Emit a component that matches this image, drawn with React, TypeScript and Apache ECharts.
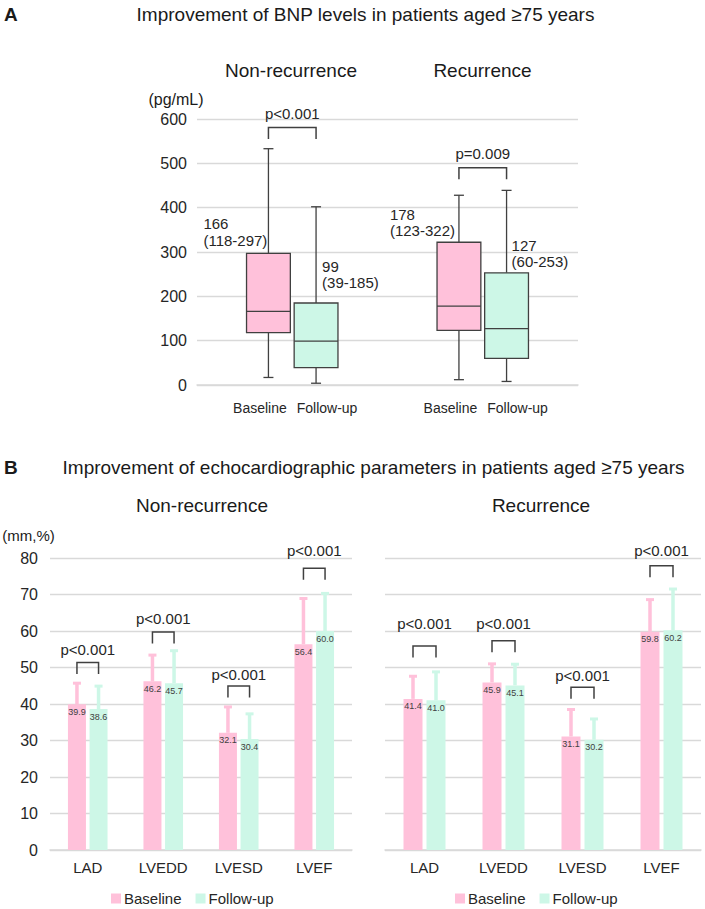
import React, { useEffect, useRef } from 'react';
import * as echarts from 'echarts';

const FONT = "'Liberation Sans', Arial, Helvetica, sans-serif";
const PINK = '#FFC1DA';
const MINT = '#CDF7E7';
const INK = '#262626';
const LINE_INK = '#404040';
const GRID_GRAY = '#D9D9D9';

// ---- Panel A: BNP (pg/mL); each row = [min, Q1, median, Q3, max]
const groups = ['Non-recurrence', 'Recurrence'];
const timepoints = ['Baseline', 'Follow-up'];
const bnpBaseline = [
  [17, 118, 166, 297, 533],
  [12, 123, 178, 322, 428],
];
const bnpFollowUp = [
  [4, 39, 99, 185, 402],
  [8, 60, 127, 253, 439],
];
const bnpPValues = ['p<0.001', 'p=0.009'];
const bnpMax = 600;
const bnpStep = 100;

// ---- Panel B: echocardiographic parameters, mean and SD
const echoParams = ['LAD', 'LVEDD', 'LVESD', 'LVEF'];
const nrBaselineMean = [39.9, 46.2, 32.1, 56.4];
const nrFollowUpMean = [38.6, 45.7, 30.4, 60.0];
const nrBaselineSD = [5.8, 7.2, 7.1, 12.5];
const nrFollowUpSD = [6.3, 8.9, 6.9, 10.3];
const recBaselineMean = [41.4, 45.9, 31.1, 59.8];
const recFollowUpMean = [41.0, 45.1, 30.2, 60.2];
const recBaselineSD = [6.2, 5.1, 7.4, 8.8];
const recFollowUpSD = [7.8, 5.8, 5.7, 11.3];
const nrPValues = ['p<0.001', 'p<0.001', 'p<0.001', 'p<0.001'];
const recPValues = ['p<0.001', 'p<0.001', 'p<0.001', 'p<0.001'];
const echoMax = 80;
const echoStep = 10;

// ---- layout helpers (pixel / axis-unit placement of annotations)
const bnpSlots = ['', timepoints[0], timepoints[1], '', '', timepoints[0], timepoints[1], ''];
const baselineSlots = [1, 5];
const followUpSlots = [2, 6];
// [dx, dy] of the left edge / bottom of each "median (IQR)" label from the top centre of its box
const baselineLabelShift = [[-65, -5], [-69, -3]];
const followUpLabelShift = [[6, -12], [5, -3]];
// bracket top and p-value text height, in axis units
const bnpBracketTop = [581, 490];
const bnpPTextAt = [613, 522];
const nrBracketTop = [51.4, 59.7, 44.9, 77.2];
const nrPTextAt = [54.8, 63.5, 48.1, 82.0];
const recBracketTop = [55.9, 57.3, 44.6, 77.9];
const recPTextAt = [62.1, 62.1, 47.8, 82.0];

const line = (x1: number, y1: number, x2: number, y2: number, stroke = LINE_INK, lineWidth = 1.3) => ({
  type: 'line',
  shape: { x1, y1, x2, y2 },
  style: { stroke, lineWidth },
});

function boxSeries(name: string, color: string, rows: number[][], slots: number[], shifts: number[][]) {
  return {
    type: 'custom',
    name,
    xAxisIndex: 0,
    yAxisIndex: 0,
    itemStyle: { color },
    encode: { x: 0, y: [1, 2, 3, 4, 5] },
    data: rows.map((r, i) => [slots[i], ...r, i]),
    renderItem: (_p: any, api: any) => {
      const slot = api.value(0);
      const mn = api.value(1), q1 = api.value(2), md = api.value(3), q3 = api.value(4), mx = api.value(5);
      const idx = api.value(6);
      const cx = api.coord([slot, md])[0];
      const yMin = api.coord([slot, mn])[1];
      const yQ1 = api.coord([slot, q1])[1];
      const yMd = api.coord([slot, md])[1];
      const yQ3 = api.coord([slot, q3])[1];
      const yMax = api.coord([slot, mx])[1];
      const w = api.size([1, 0])[0] * 0.92;
      const cap = 5;
      const [dx, dy] = shifts[idx];
      return {
        type: 'group',
        children: [
          line(cx, yMax, cx, yQ3),
          line(cx, yQ1, cx, yMin),
          line(cx - cap, yMax, cx + cap, yMax),
          line(cx - cap, yMin, cx + cap, yMin),
          {
            type: 'rect',
            shape: { x: cx - w / 2, y: yQ3, width: w, height: yQ1 - yQ3 },
            style: { fill: color, stroke: LINE_INK, lineWidth: 1.3 },
          },
          line(cx - w / 2, yMd, cx + w / 2, yMd),
          {
            type: 'text',
            style: {
              text: `${md}\n(${q1}-${q3})`,
              x: cx + dx,
              y: yQ3 + dy,
              align: 'left',
              verticalAlign: 'bottom',
              fontSize: 15,
              lineHeight: 16.5,
              fontFamily: FONT,
              fill: INK,
            },
          },
        ],
      };
    },
  };
}

function bnpBracketSeries() {
  return {
    type: 'custom',
    name: 'bnp-p',
    xAxisIndex: 0,
    yAxisIndex: 0,
    silent: true,
    encode: { x: 0, y: 2 },
    data: groups.map((_, i) => [baselineSlots[i], followUpSlots[i], bnpBracketTop[i], bnpPTextAt[i], i]),
    renderItem: (_p: any, api: any) => {
      const a = api.coord([api.value(0), api.value(2)]);
      const b = api.coord([api.value(1), api.value(2)]);
      const t = api.coord([api.value(0), api.value(3)]);
      const leg = 11.5;
      return {
        type: 'group',
        children: [
          {
            type: 'polyline',
            shape: { points: [[a[0], a[1] + leg], [a[0], a[1]], [b[0], b[1]], [b[0], b[1] + leg]] },
            style: { stroke: LINE_INK, lineWidth: 1.5, fill: 'none' },
          },
          {
            type: 'text',
            style: {
              text: bnpPValues[api.value(4)],
              x: (a[0] + b[0]) / 2,
              y: t[1],
              align: 'center',
              verticalAlign: 'middle',
              fontSize: 15,
              fontFamily: FONT,
              fill: INK,
            },
          },
        ],
      };
    },
  };
}

function barSeries(name: string, color: string, data: number[], axis: number, width: number, gap: string) {
  return {
    type: 'bar',
    name,
    xAxisIndex: axis,
    yAxisIndex: axis,
    data,
    barWidth: width,
    barGap: gap,
    itemStyle: { color },
    label: {
      show: true,
      position: 'insideTop',
      distance: 3,
      fontSize: 9,
      fontFamily: FONT,
      color: LINE_INK,
      formatter: (p: any) => Number(p.value).toFixed(1),
    },
    z: 2,
  };
}

function errorSeries(name: string, color: string, mean: number[], sd: number[], axis: number, offset: number) {
  return {
    type: 'custom',
    name: name + ' SD',
    xAxisIndex: axis,
    yAxisIndex: axis,
    silent: true,
    encode: { x: 0, y: 1 },
    z: 3,
    data: mean.map((m, i) => [i, m, sd[i]]),
    renderItem: (_p: any, api: any) => {
      const c = api.value(0);
      const m = api.value(1);
      const s = api.value(2);
      const base = api.coord([c, m]);
      const top = api.coord([c, m + s]);
      const x = base[0] + offset;
      return {
        type: 'group',
        children: [
          line(x, base[1], x, top[1], color, 3.5),
          line(x - 4, top[1], x + 4, top[1], color, 3),
        ],
      };
    },
  };
}

function echoBracketSeries(axis: number, tops: number[], texts: number[], pvals: string[], offset: number) {
  return {
    type: 'custom',
    name: 'echo-p-' + axis,
    xAxisIndex: axis,
    yAxisIndex: axis,
    silent: true,
    encode: { x: 0, y: 1 },
    data: echoParams.map((_, i) => [i, tops[i], texts[i]]),
    renderItem: (_p: any, api: any) => {
      const i = api.value(0);
      const top = api.coord([i, api.value(1)]);
      const txt = api.coord([i, api.value(2)]);
      const x1 = top[0] - offset;
      const x2 = top[0] + offset;
      const leg = 11.5;
      return {
        type: 'group',
        children: [
          {
            type: 'polyline',
            shape: { points: [[x1, top[1] + leg], [x1, top[1]], [x2, top[1]], [x2, top[1] + leg]] },
            style: { stroke: LINE_INK, lineWidth: 1.5, fill: 'none' },
          },
          {
            type: 'text',
            style: {
              text: pvals[i],
              x: top[0],
              y: txt[1],
              align: 'center',
              verticalAlign: 'middle',
              fontSize: 15,
              fontFamily: FONT,
              fill: INK,
            },
          },
        ],
      };
    },
  };
}

const txt = (text: string, x: number, y: number, fontSize: number, align = 'center', fontWeight = 'normal') => ({
  type: 'text',
  x,
  y,
  silent: true,
  style: { text, align, verticalAlign: 'middle', fontSize, fontWeight, fontFamily: FONT, fill: '#1a1a1a' },
});

export default function App() {
  const ref = useRef<HTMLDivElement>(null);

  useEffect(() => {
    if (!ref.current) return;
    const chart = echarts.init(ref.current, undefined, { renderer: 'svg' });

    const valueAxisCommon = {
      type: 'value',
      min: 0,
      axisLine: { show: false },
      axisTick: { show: false },
      splitLine: { lineStyle: { color: GRID_GRAY, width: 1.3 } },
    };

    const echoCatAxis = (gridIndex: number) => ({
      type: 'category',
      gridIndex,
      data: echoParams,
      axisTick: { show: false },
      axisLine: { lineStyle: { color: GRID_GRAY, width: 1.5 } },
      axisLabel: { fontSize: 15, fontFamily: FONT, color: INK, margin: 10, interval: 0 },
    });

    const legend = (left: number) => ({
      data: timepoints,
      left,
      top: 891,
      padding: 0,
      icon: 'rect',
      itemWidth: 10,
      itemHeight: 10,
      itemGap: 14,
      selectedMode: false,
      textStyle: { fontSize: 15, fontFamily: FONT, color: INK, padding: [0, 0, 0, -2] },
    });

    chart.setOption({
      animation: false,
      backgroundColor: '#ffffff',
      textStyle: { fontFamily: FONT },
      grid: [
        { left: 197, top: 119, width: 381, height: 266 },
        { left: 50, top: 558, width: 302, height: 292 },
        { left: 385, top: 558, width: 316, height: 292 },
      ],
      xAxis: [
        {
          type: 'category',
          gridIndex: 0,
          data: bnpSlots,
          axisTick: { show: false },
          axisLine: { lineStyle: { color: GRID_GRAY, width: 1.5 } },
          axisLabel: {
            interval: 0,
            margin: 16,
            formatter: (v: string) => (v === timepoints[0] ? `{b|${v}}` : v === timepoints[1] ? `{f|${v}}` : ''),
            rich: {
              b: { fontSize: 14, fontFamily: FONT, color: INK, padding: [0, 17, 0, 0] },
              f: { fontSize: 14, fontFamily: FONT, color: INK, padding: [0, 0, 0, 22] },
            },
          },
        },
        echoCatAxis(1),
        echoCatAxis(2),
      ],
      yAxis: [
        {
          ...valueAxisCommon,
          gridIndex: 0,
          max: bnpMax,
          interval: bnpStep,
          axisLabel: { fontSize: 16, fontFamily: FONT, color: INK, margin: 10 },
        },
        {
          ...valueAxisCommon,
          gridIndex: 1,
          max: echoMax,
          interval: echoStep,
          axisLabel: { fontSize: 16, fontFamily: FONT, color: INK, margin: 12 },
        },
        {
          ...valueAxisCommon,
          gridIndex: 2,
          max: echoMax,
          interval: echoStep,
          axisLabel: { show: false },
        },
      ],
      legend: [legend(111), legend(455)],
      series: [
        boxSeries(timepoints[0], PINK, bnpBaseline, baselineSlots, baselineLabelShift),
        boxSeries(timepoints[1], MINT, bnpFollowUp, followUpSlots, followUpLabelShift),
        bnpBracketSeries(),
        barSeries(timepoints[0], PINK, nrBaselineMean, 1, 18, '20%'),
        barSeries(timepoints[1], MINT, nrFollowUpMean, 1, 18, '20%'),
        errorSeries(timepoints[0], PINK, nrBaselineMean, nrBaselineSD, 1, -10.8),
        errorSeries(timepoints[1], MINT, nrFollowUpMean, nrFollowUpSD, 1, 10.8),
        echoBracketSeries(1, nrBracketTop, nrPTextAt, nrPValues, 10.8),
        barSeries(timepoints[0], PINK, recBaselineMean, 2, 19, '21%'),
        barSeries(timepoints[1], MINT, recFollowUpMean, 2, 19, '21%'),
        errorSeries(timepoints[0], PINK, recBaselineMean, recBaselineSD, 2, -11.5),
        errorSeries(timepoints[1], MINT, recFollowUpMean, recFollowUpSD, 2, 11.5),
        echoBracketSeries(2, recBracketTop, recPTextAt, recPValues, 11.5),
      ],
      graphic: [
        txt('A', 4, 14, 19, 'left', 'bold'),
        txt('Improvement of BNP levels in patients aged \u226575 years', 365.5, 14, 19),
        txt(groups[0], 291, 70, 19),
        txt(groups[1], 482.5, 70, 19),
        txt('(pg/mL)', 176, 99, 16),
        txt('B', 4, 467, 19, 'left', 'bold'),
        txt('Improvement of echocardiographic parameters in patients aged \u226575 years', 373.5, 467, 19),
        txt(groups[0], 202, 505, 19),
        txt(groups[1], 541, 505, 19),
        txt('(mm,%)', 28.5, 535, 15),
      ],
    });

    return () => chart.dispose();
  }, []);

  return <div ref={ref} style={{ position: 'absolute', left: 0, top: 0, width: 705, height: 909 }} />;
}
